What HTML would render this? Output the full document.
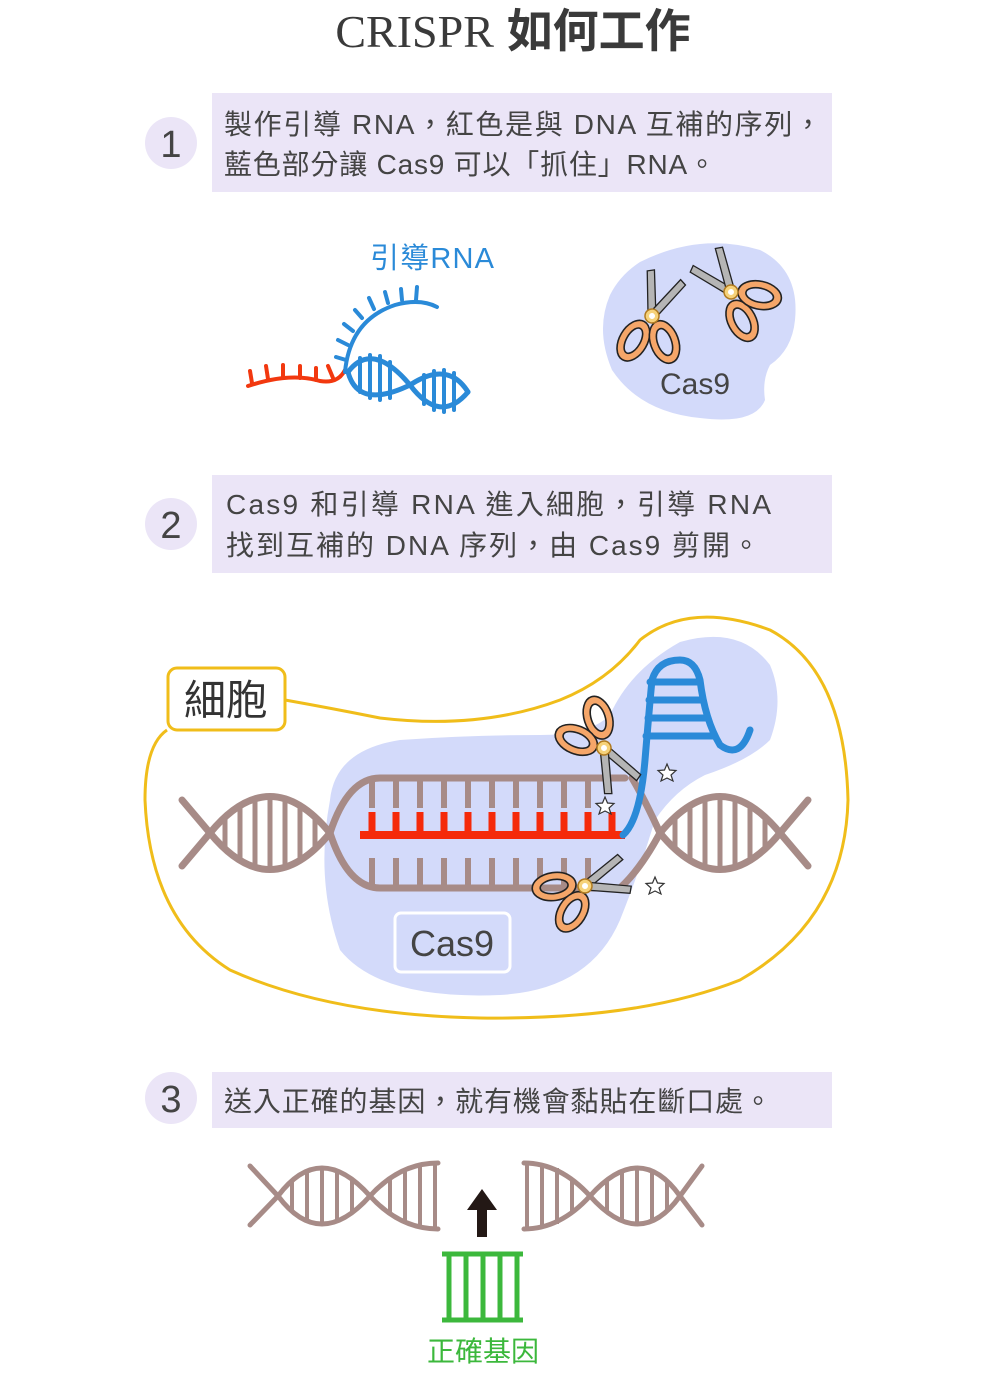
<!DOCTYPE html>
<html><head><meta charset="utf-8"><style>
html,body{margin:0;padding:0;background:#fff;}
svg{display:block}
text{font-family:"Liberation Sans","Noto Sans CJK TC",sans-serif;}
</style></head><body>
<svg width="990" height="1375" viewBox="0 0 990 1375" xmlns="http://www.w3.org/2000/svg">
<defs>
<g id="sc">
  <polygon points="-4,0 -11,-44 -4,-46 4,0" fill="#b5b5b5" stroke="#222" stroke-width="1.3"/>
  <polygon points="-4,0 5,-46 12,-44 4,0" fill="#b5b5b5" stroke="#222" stroke-width="1.3" transform="rotate(24)"/>
  <path fill-rule="evenodd" fill="#f5a669" stroke="#222" stroke-width="1.6" transform="translate(-15,27) rotate(22)" d="M-14,0 a14,22 0 1,0 28,0 a14,22 0 1,0 -28,0 Z M-7,0 a7,14 0 1,0 14,0 a7,14 0 1,0 -14,0 Z"/>
  <path fill-rule="evenodd" fill="#f5a669" stroke="#222" stroke-width="1.6" transform="translate(16,24) rotate(-28)" d="M-14,0 a14,22 0 1,0 28,0 a14,22 0 1,0 -28,0 Z M-7,0 a7,14 0 1,0 14,0 a7,14 0 1,0 -14,0 Z"/>
  <circle r="7" fill="#f6d27a" stroke="#b07a20" stroke-width="1.5"/>
  <circle r="3" fill="#fff"/>
</g>
<polygon id="star" points="0,-9 2.5,-3 9,-2.5 4,2 6,8 0,5 -6,8 -4,2 -9,-2.5 -2.5,-3" fill="#fff" stroke="#333" stroke-width="1.2"/>
</defs>

<!-- Title -->
<text x="513" y="47" text-anchor="middle" font-size="46" fill="#3a3a3a"><tspan font-family="Liberation Serif,serif">CRISPR</tspan> <tspan font-family="Noto Sans CJK SC,sans-serif" font-weight="bold">如何工作</tspan></text>

<!-- Step 1 -->
<circle cx="171" cy="143" r="26" fill="#ebe5f7"/>
<text x="171" y="157" text-anchor="middle" font-size="38" fill="#444">1</text>
<rect x="212" y="93" width="620" height="99" fill="#ebe5f7"/>
<text x="224" y="134" font-size="28" fill="#444" textLength="598" lengthAdjust="spacing">製作引導 RNA，紅色是與 DNA 互補的序列，</text>
<text x="224" y="174" font-size="28" fill="#444" textLength="492" lengthAdjust="spacing">藍色部分讓 Cas9 可以「抓住」RNA。</text>

<!-- Guide RNA drawing -->
<text x="370" y="268" font-size="29" fill="#2a8ad8" textLength="124" lengthAdjust="spacing">引導RNA</text>
<g fill="none" stroke-width="4" stroke-linecap="round">
  <path d="M248,386 Q290,372 320,381 Q338,384 345,370" stroke="#f2380f"/>
  <g stroke="#f2380f">
    <line x1="252" y1="383" x2="250" y2="371"/><line x1="268" y1="379" x2="266" y2="366"/>
    <line x1="283" y1="377" x2="283" y2="365"/><line x1="300" y1="378" x2="300" y2="366"/>
    <line x1="316" y1="380" x2="316" y2="368"/><line x1="333" y1="378" x2="328" y2="366"/>
  </g>
  <g stroke="#2a8ad8">
    <path d="M345,372 Q350,320 395,305 Q420,298 437,307"/>
    <line x1="346" y1="360" x2="336" y2="357"/><line x1="348" y1="345" x2="338" y2="340"/>
    <line x1="353" y1="331" x2="344" y2="324"/><line x1="362" y1="318" x2="355" y2="310"/>
    <line x1="374" y1="309" x2="369" y2="298"/><line x1="388" y1="303" x2="385" y2="292"/>
    <line x1="402" y1="300" x2="401" y2="289"/><line x1="416" y1="300" x2="417" y2="287"/>
    <path d="M348,372 Q372,340 410,385 Q440,425 468,392" stroke-width="5"/>
    <path d="M348,372 Q358,410 410,385 Q448,360 468,392" stroke-width="5"/>
    <line x1="360" y1="358" x2="360" y2="392"/><line x1="370" y1="355" x2="370" y2="398"/>
    <line x1="380" y1="356" x2="380" y2="400"/><line x1="390" y1="362" x2="390" y2="398"/>
    <line x1="424" y1="375" x2="424" y2="404"/><line x1="434" y1="371" x2="434" y2="410"/>
    <line x1="444" y1="370" x2="444" y2="412"/><line x1="454" y1="373" x2="454" y2="410"/>
  </g>
</g>

<!-- Cas9 blob top -->
<path d="M640,262 Q700,232 760,250 Q800,270 795,320 Q792,350 770,365 Q762,380 765,400 Q755,425 700,418 Q640,412 612,370 Q595,330 610,295 Q620,275 640,262 Z" fill="#d3dafa"/>
<use href="#sc" transform="translate(652,316) rotate(8)"/>
<use href="#sc" transform="translate(731,292) rotate(-50)"/>
<text x="695" y="394" text-anchor="middle" font-size="30" fill="#444">Cas9</text>

<!-- Step 2 -->
<circle cx="171" cy="524" r="26" fill="#ebe5f7"/>
<text x="171" y="538" text-anchor="middle" font-size="38" fill="#444">2</text>
<rect x="212" y="475" width="620" height="98" fill="#ebe5f7"/>
<text x="226" y="514" font-size="28" fill="#444" textLength="545" lengthAdjust="spacing">Cas9 和引導 RNA 進入細胞，引導 RNA</text>
<text x="226" y="555" font-size="28" fill="#444" textLength="534" lengthAdjust="spacing">找到互補的 DNA 序列，由 Cas9 剪開。</text>

<!-- Cell -->
<path d="M285,700 Q330,708 380,718 Q480,730 560,700 Q610,680 640,640 Q690,600 770,630 Q845,670 848,800 Q845,920 740,980 Q640,1020 480,1018 Q330,1015 230,970 Q150,920 145,800 Q145,745 167,730" fill="none" stroke="#f0bd1a" stroke-width="3"/>
<path d="M330,800 Q335,750 400,740 Q470,735 540,735 Q590,735 610,715 Q630,670 680,642 Q740,625 770,665 Q785,700 770,740 Q750,760 705,775 Q675,790 655,820 Q640,870 620,920 Q590,990 500,995 Q380,1000 340,950 Q315,880 330,800 Z" fill="#d3dafa"/>

<g fill="none" stroke="#a78b87" stroke-width="7" stroke-linecap="round">
  <path d="M182,800 L210,833 Q270,760 330,833 Q348,778 380,778 L625,778"/>
  <path d="M182,866 L210,833 Q270,906 330,833 Q348,888 380,888 L625,888"/>
  <path d="M632,778 Q645,800 660,833 Q720,760 780,833 L808,866"/>
  <path d="M620,888 Q640,870 660,833 Q720,906 780,833 L808,800"/>
</g>
<g stroke="#a78b87" stroke-width="5">
  <line x1="225" y1="817" x2="225" y2="849"/><line x1="240" y1="805" x2="240" y2="861"/>
  <line x1="255" y1="799" x2="255" y2="867"/><line x1="270" y1="797" x2="270" y2="869"/>
  <line x1="285" y1="799" x2="285" y2="867"/><line x1="300" y1="805" x2="300" y2="861"/>
  <line x1="315" y1="817" x2="315" y2="849"/>
  <line x1="675" y1="817" x2="675" y2="849"/><line x1="690" y1="805" x2="690" y2="861"/>
  <line x1="705" y1="799" x2="705" y2="867"/><line x1="720" y1="797" x2="720" y2="869"/>
  <line x1="735" y1="799" x2="735" y2="867"/><line x1="750" y1="805" x2="750" y2="861"/>
  <line x1="765" y1="817" x2="765" y2="849"/>
</g>
<g stroke="#a78b87" stroke-width="6">
  <line x1="372" y1="778" x2="372" y2="808"/><line x1="396" y1="778" x2="396" y2="808"/>
  <line x1="420" y1="778" x2="420" y2="808"/><line x1="444" y1="778" x2="444" y2="808"/>
  <line x1="468" y1="778" x2="468" y2="808"/><line x1="492" y1="778" x2="492" y2="808"/>
  <line x1="516" y1="778" x2="516" y2="808"/><line x1="540" y1="778" x2="540" y2="808"/>
  <line x1="564" y1="778" x2="564" y2="808"/><line x1="588" y1="778" x2="588" y2="808"/>
  <line x1="372" y1="858" x2="372" y2="888"/><line x1="396" y1="858" x2="396" y2="888"/>
  <line x1="420" y1="858" x2="420" y2="888"/><line x1="444" y1="858" x2="444" y2="888"/>
  <line x1="468" y1="858" x2="468" y2="888"/><line x1="492" y1="858" x2="492" y2="888"/>
  <line x1="516" y1="858" x2="516" y2="888"/><line x1="540" y1="858" x2="540" y2="888"/>
  <line x1="564" y1="858" x2="564" y2="888"/><line x1="588" y1="858" x2="588" y2="888"/>
</g>
<g stroke="#f52a0a" stroke-width="7">
  <line x1="360" y1="835" x2="625" y2="835" stroke-width="8"/>
  <line x1="372" y1="812" x2="372" y2="835"/><line x1="396" y1="812" x2="396" y2="835"/>
  <line x1="420" y1="812" x2="420" y2="835"/><line x1="444" y1="812" x2="444" y2="835"/>
  <line x1="468" y1="812" x2="468" y2="835"/><line x1="492" y1="812" x2="492" y2="835"/>
  <line x1="516" y1="812" x2="516" y2="835"/><line x1="540" y1="812" x2="540" y2="835"/>
  <line x1="564" y1="812" x2="564" y2="835"/><line x1="588" y1="812" x2="588" y2="835"/>
  <line x1="612" y1="812" x2="612" y2="835"/>
</g>
<g fill="none" stroke="#2a8ad8" stroke-width="7" stroke-linecap="round">
  <path d="M623,835 Q640,820 645,760 Q650,700 652,680 Q658,660 680,660 Q695,660 700,680 Q705,720 720,745 Q740,760 750,730"/>
  <line x1="650" y1="682" x2="700" y2="682"/><line x1="649" y1="700" x2="703" y2="700"/>
  <line x1="648" y1="718" x2="707" y2="718"/><line x1="646" y1="736" x2="714" y2="736"/>
</g>
<use href="#sc" transform="translate(604,748) rotate(140)"/>
<use href="#sc" transform="translate(585,886) rotate(60)"/>
<use href="#star" transform="translate(605,806)"/>
<use href="#star" transform="translate(667,773)"/>
<use href="#star" transform="translate(655,886)"/>

<rect x="168" y="668" width="117" height="62" rx="9" fill="#fff" stroke="#f0bd1a" stroke-width="3"/>
<text x="226" y="715" text-anchor="middle" font-size="42" fill="#333">細胞</text>
<rect x="395" y="913" width="115" height="59" rx="6" fill="#d3dafa" stroke="#fff" stroke-width="3"/>
<text x="452" y="956" text-anchor="middle" font-size="36" fill="#444">Cas9</text>

<!-- Step 3 -->
<circle cx="171" cy="1098" r="26" fill="#ebe5f7"/>
<text x="171" y="1112" text-anchor="middle" font-size="38" fill="#444">3</text>
<rect x="212" y="1072" width="620" height="56" fill="#ebe5f7"/>
<text x="224" y="1111" font-size="28" fill="#444" textLength="548" lengthAdjust="spacing">送入正確的基因，就有機會黏貼在斷口處。</text>

<g fill="none" stroke="#a78b87" stroke-width="5" stroke-linecap="round">
  <path d="M250,1225 L278,1196 Q320,1140 370,1196 Q400,1163 438,1163"/>
  <path d="M250,1166 L278,1196 Q320,1252 370,1196 Q400,1229 438,1229"/>
  <path d="M524,1163 Q560,1163 590,1196 Q640,1140 680,1196 L702,1225"/>
  <path d="M524,1229 Q560,1229 590,1196 Q640,1252 680,1196 L702,1166"/>
</g>
<g stroke="#a78b87" stroke-width="4">
  <line x1="292" y1="1180" x2="292" y2="1212"/><line x1="307" y1="1170" x2="307" y2="1222"/>
  <line x1="322" y1="1167" x2="322" y2="1225"/><line x1="337" y1="1170" x2="337" y2="1222"/>
  <line x1="352" y1="1180" x2="352" y2="1212"/>
  <line x1="390" y1="1178" x2="390" y2="1214"/><line x1="405" y1="1168" x2="405" y2="1224"/>
  <line x1="420" y1="1164" x2="420" y2="1228"/><line x1="435" y1="1164" x2="435" y2="1228"/>
  <line x1="527" y1="1164" x2="527" y2="1228"/><line x1="542" y1="1164" x2="542" y2="1228"/>
  <line x1="557" y1="1168" x2="557" y2="1224"/><line x1="572" y1="1178" x2="572" y2="1214"/>
  <line x1="607" y1="1180" x2="607" y2="1212"/><line x1="622" y1="1170" x2="622" y2="1222"/>
  <line x1="637" y1="1167" x2="637" y2="1225"/><line x1="652" y1="1170" x2="652" y2="1222"/>
  <line x1="667" y1="1180" x2="667" y2="1212"/>
</g>
<polygon points="482,1189 497,1210 487,1210 487,1237 477,1237 477,1210 467,1210" fill="#231815"/>
<g stroke="#3cb83c" stroke-width="5">
  <line x1="442" y1="1254" x2="523" y2="1254"/><line x1="442" y1="1320" x2="523" y2="1320"/>
  <line x1="449" y1="1254" x2="449" y2="1320"/><line x1="466" y1="1254" x2="466" y2="1320"/>
  <line x1="483" y1="1254" x2="483" y2="1320"/><line x1="500" y1="1254" x2="500" y2="1320"/>
  <line x1="517" y1="1254" x2="517" y2="1320"/>
</g>
<text x="483" y="1361" text-anchor="middle" font-size="28" fill="#3cb83c">正確基因</text>
</svg>
</body></html>
